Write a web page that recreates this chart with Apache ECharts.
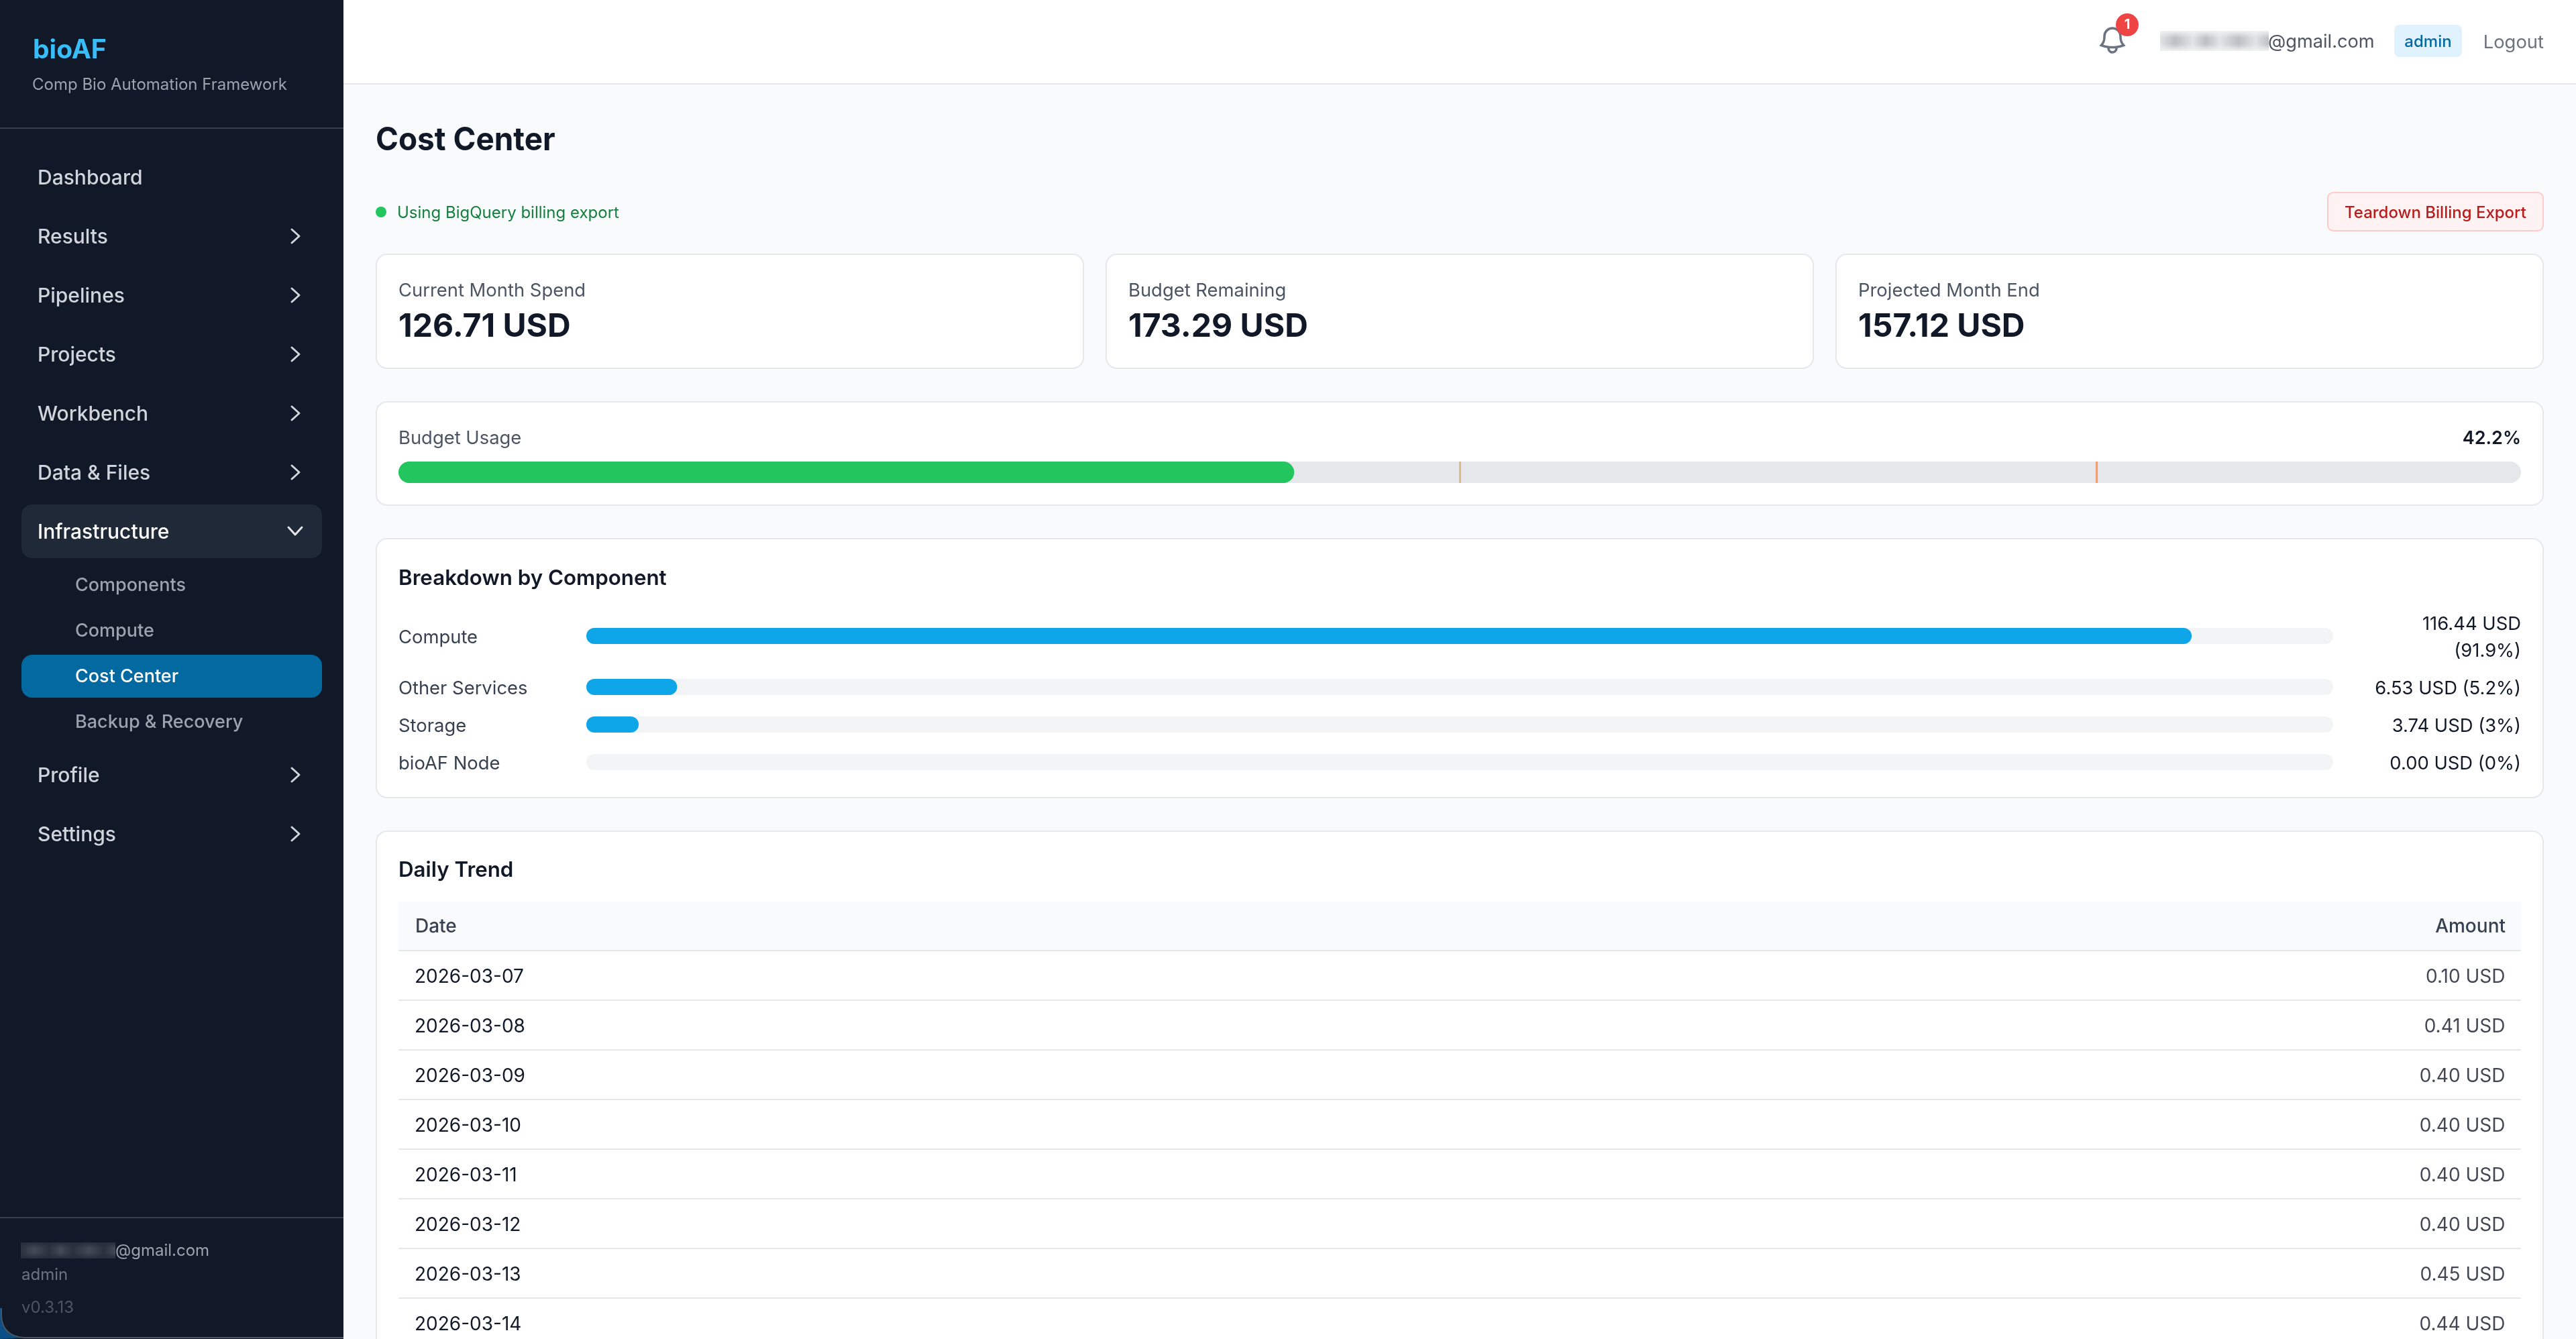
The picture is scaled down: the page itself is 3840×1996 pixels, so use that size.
<!DOCTYPE html>
<html lang="en">
<head>
    <meta charset="UTF-8">
    <title>Cost Center</title>
    <script src="https://cdn.jsdelivr.net/npm/echarts@6/dist/echarts.min.js"></script>
    <style>
        html, body { margin: 0; padding: 0; background: #f9fafb; }
        #main { width: 3840px; height: 1996px; }
    </style>
</head>
<body>
<div id="main"></div>
<script>
    // sidebar
    var navTop = ['Dashboard', 'Results', 'Pipelines', 'Projects', 'Workbench', 'Data & Files'];
    var navBottom = ['Profile', 'Settings'];
    var navSub = ['Components', 'Compute', 'Cost Center', 'Backup & Recovery'];

    // stat cards
    var statLabels = ['Current Month Spend', 'Budget Remaining', 'Projected Month End'];
    var statValues = ['126.71 USD', '173.29 USD', '157.12 USD'];

    // budget bar
    var budgetUsage = 42.2;
    var budgetMarks = [50, 80];

    // breakdown
    var componentNames = ['Compute', 'Other Services', 'Storage', 'bioAF Node'];
    var componentAmounts = [116.44, 6.53, 3.74, 0];
    var componentPercents = [91.9, 5.2, 3, 0];

    // daily trend
    var trendDates = ['2026-03-07', '2026-03-08', '2026-03-09', '2026-03-10', '2026-03-11', '2026-03-12', '2026-03-13', '2026-03-14'];
    var trendAmounts = [0.10, 0.41, 0.40, 0.40, 0.40, 0.40, 0.45, 0.44];

    var FONT = 'Inter';
    var els = [];

    // graphic has no plain path type, so the icon and the window corner are registered as shapes
    echarts.graphic.registerShape('bellIcon', echarts.graphic.extendPath(
        'M14.857 17.082a23.848 23.848 0 0 0 5.454-1.31A8.967 8.967 0 0 1 18 9.75v-.7V9A6 6 0 0 0 6 9v.75a8.967 8.967 0 0 1-2.312 6.022c1.733.64 3.56 1.085 5.455 1.31m5.714 0a24.255 24.255 0 0 1-5.714 0m5.714 0a3 3 0 1 1-5.714 0', {}));
    echarts.graphic.registerShape('cornerFill', echarts.graphic.extendPath('M0 1950 L2 1950 L2 1962 Q4 1992 36 1994 L0 1996 Z', {}));
    echarts.graphic.registerShape('cornerLine', echarts.graphic.extendPath('M2 1950 L2 1962 Q4 1992 36 1994 L512 1994', {}));

    function txt(s, x, y, size, color, weight, align, sx) {
        els.push({
            type: 'text', x: x, y: y + 2, scaleX: sx || 1,
            style: {
                text: s, x: 0, y: 0, fill: color,
                font: (weight || 400) + ' ' + size + 'px ' + FONT,
                textAlign: align || 'left',
                textVerticalAlign: 'middle'
            }
        });
    }
    function box(x, y, w, h, fill, r, stroke) {
        var e = {
            type: 'rect',
            shape: { x: x, y: y, width: w, height: h, r: r || 0 },
            style: { fill: fill }
        };
        if (stroke) {
            e.style.stroke = stroke;
            e.style.lineWidth = 2;
        }
        els.push(e);
    }
    function card(x, y, w, h) {
        box(x + 1, y + 1, w - 2, h - 2, '#ffffff', 16, '#e5e7eb');
    }
    function chevron(y) {
        els.push({
            type: 'polyline',
            shape: { points: [[435, y - 10], [446, y], [435, y + 10]] },
            style: { fill: null, stroke: '#d1d5db', lineWidth: 3, lineCap: 'round', lineJoin: 'round' }
        });
    }
    // the blurred-out part of the address: soft stripes faded out at top and bottom
    function blur(x, y, w, h, a, b, rgb) {
        var stops = [0, 0.14, 0.3, 0.42, 0.55, 0.72, 0.88, 1].map(function (o, i) {
            return { offset: o, color: i % 2 ? b : a };
        });
        els.push({
            type: 'rect',
            shape: { x: x, y: y, width: w, height: h },
            style: { fill: { type: 'linear', x: 0, y: 0, x2: 1, y2: 0, colorStops: stops } }
        });
        els.push({
            type: 'rect',
            shape: { x: x, y: y, width: w, height: h },
            style: {
                fill: {
                    type: 'linear', x: 0, y: 0, x2: 0, y2: 1,
                    colorStops: [
                        { offset: 0, color: 'rgba(' + rgb + ',1)' },
                        { offset: 0.35, color: 'rgba(' + rgb + ',0)' },
                        { offset: 0.65, color: 'rgba(' + rgb + ',0)' },
                        { offset: 1, color: 'rgba(' + rgb + ',1)' }
                    ]
                }
            }
        });
    }

    // ---- sidebar ----
    box(0, 0, 512, 1996, '#111827');
    box(0, 190, 512, 2, '#374151');
    txt('bioAF', 49, 73, 39, '#38bdf8', 700);
    txt('Comp Bio Automation Framework', 48, 125, 24, '#9ca3af');
    navTop.forEach(function (s, i) {
        var y = 264 + i * 88;
        txt(s, 56, y, 30, '#d1d5db', 500);
        if (i > 0) chevron(y);
    });
    box(32, 752, 448, 80, '#1f2937', 16);
    txt('Infrastructure', 56, 792, 30, '#ffffff', 500);
    els.push({
        type: 'polyline',
        shape: { points: [[430, 786], [440, 797], [450, 786]] },
        style: { fill: null, stroke: '#e5e7eb', lineWidth: 3, lineCap: 'round', lineJoin: 'round' }
    });
    box(32, 976, 448, 64, '#0369a1', 16);
    navSub.forEach(function (s, i) {
        txt(s, 112, 871 + i * 68, 27, i === 2 ? '#ffffff' : '#9ca3af', 500);
    });
    navBottom.forEach(function (s, i) {
        var y = 1155 + i * 88;
        txt(s, 56, y, 30, '#d1d5db', 500);
        chevron(y);
    });
    box(0, 1814, 512, 2, '#374151');
    blur(31, 1852, 141, 24, '#2a313e', '#434955', '38,45,58');
    txt('@gmail.com', 172, 1863, 24, '#9ca3af');
    txt('admin', 32, 1899, 24, '#6b7280');
    txt('v0.3.13', 32, 1948, 24, '#4b5563');
    // window corner
    els.push({ type: 'cornerFill', style: { fill: '#0b4f86' } });
    els.push({ type: 'cornerLine', style: { fill: null, stroke: '#4b5563', lineWidth: 2 } });

    // ---- top bar ----
    box(512, 0, 3328, 124, '#ffffff');
    box(512, 124, 3328, 2, '#e5e7eb');
    els.push({
        type: 'bellIcon', x: 3125, y: 36, scaleX: 2, scaleY: 2,
        style: { fill: null, stroke: '#6b7280', lineWidth: 1.75 }
    });
    els.push({
        type: 'circle',
        shape: { cx: 3171, cy: 37, r: 17 },
        style: { fill: '#ef4444' }
    });
    txt('1', 3171, 35, 20, '#ffffff', 700, 'center');
    blur(3220, 46, 162, 30, '#e2e3e6', '#bcbfc3', '240,241,242');
    txt('@gmail.com', 3381, 61, 27.2, '#4b5563');
    box(3569, 37, 101, 48, '#e0f2fe', 8);
    txt('admin', 3619.5, 61, 24, '#0369a1', 500, 'center');
    txt('Logout', 3792, 62, 27.4, '#6b7280', 400, 'right');

    // ---- page head ----
    txt('Cost Center', 560, 208, 48, '#111827', 700, 'left', 0.956);
    els.push({
        type: 'circle',
        shape: { cx: 568, cy: 316, r: 8 },
        style: { fill: '#22c55e' }
    });
    txt('Using BigQuery billing export', 592, 316, 24, '#15803d');
    box(3470, 287, 321, 57, '#fef2f2', 8, '#fecaca');
    txt('Teardown Billing Export', 3630.5, 316, 24, '#b91c1c', 500, 'center');

    // ---- cards ----
    statLabels.forEach(function (s, i) {
        var x = 560 + i * 1088;
        card(x, 378, 1056, 172);
        txt(s, x + 34, 432, 27.4, '#4b5563');
        txt(statValues[i], x + 34, 486, 48, '#111827', 700);
    });
    card(560, 598, 3232, 156);
    txt('Budget Usage', 594, 652, 27.4, '#4b5563');
    txt(budgetUsage + '%', 3758, 652, 27, '#111827', 600, 'right');
    card(560, 802, 3232, 388);
    txt('Breakdown by Component', 594, 861, 31.3, '#111827', 600);
    card(560, 1238, 3232, 800);
    txt('Daily Trend', 594, 1296, 31.3, '#111827', 600);
    box(594, 1344, 3164, 73, '#f9fafb');
    txt('Date', 619, 1380, 28, '#374151', 500);
    txt('Amount', 3735, 1380, 28, '#374151', 500, 'right');

    // ---- charts ----
    var grids = [], xAxes = [], yAxes = [], series = [];

    // budget usage
    grids.push({ left: 594, top: 688, width: 3164, height: 32, outerBoundsMode: 'none' });
    xAxes.push({ gridIndex: 0, type: 'value', min: 0, max: 100, show: false });
    yAxes.push({ gridIndex: 0, type: 'category', data: ['Budget Usage'], show: false });
    series.push({
        name: 'Budget Usage', type: 'bar', xAxisIndex: 0, yAxisIndex: 0,
        data: [budgetUsage], barWidth: '100%',
        itemStyle: { color: '#22c55e', borderRadius: 16 },
        showBackground: true,
        backgroundStyle: { color: '#e5e7eb', borderRadius: 16 },
        markLine: {
            silent: true, symbol: 'none', label: { show: false },
            data: [
                { xAxis: budgetMarks[0], lineStyle: { color: '#d9bb85', width: 3, type: 'solid' } },
                { xAxis: budgetMarks[1], lineStyle: { color: '#ee9f76', width: 3, type: 'solid' } }
            ]
        }
    });

    // axis labels sit a bit low in the reference: top-aligned with a tiny line height moves them down
    var AXIS_TEXT = { fontFamily: FONT, verticalAlign: 'top', lineHeight: 5 };

    // breakdown rows, the first one is taller because its value text wraps
    var rowTops = [936, 1012, 1068, 1124];
    componentNames.forEach(function (name, i) {
        var g = grids.length;
        var pct = componentPercents[i];
        var amount = componentAmounts[i].toFixed(2) + ' USD';
        var valueLabel = Object.assign({ align: 'right', margin: 280, color: '#111827', fontSize: 27.4 }, AXIS_TEXT);
        var valueText = amount + ' (' + pct + '%)';
        if (i === 0) {
            // two lines, with a thin blank line on top for the same shift
            valueText = amount + '\n(' + pct + '%)';
            valueLabel = {
                align: 'right', margin: 280,
                formatter: function (v) {
                    return '{s| }\n' + v.split('\n').map(function (l) { return '{a|' + l + '}'; }).join('\n');
                },
                rich: {
                    s: { fontSize: 1, lineHeight: 5 },
                    a: { fontFamily: FONT, fontSize: 27.4, lineHeight: 40, color: '#111827' }
                }
            };
        }
        grids.push({ left: 874, top: rowTops[i], width: 2604, height: 24, outerBoundsMode: 'none' });
        xAxes.push({ gridIndex: g, type: 'value', min: 0, max: 100, show: false });
        yAxes.push({
            gridIndex: g, type: 'category', data: [name],
            axisLine: { show: false }, axisTick: { show: false },
            axisLabel: Object.assign({ align: 'left', margin: 280, color: '#374151', fontSize: 27.4 }, AXIS_TEXT)
        });
        var leftIdx = yAxes.length - 1;
        yAxes.push({
            gridIndex: g, type: 'category', position: 'right', data: [valueText],
            axisLine: { show: false }, axisTick: { show: false },
            axisLabel: valueLabel
        });
        series.push({
            name: name, type: 'bar', xAxisIndex: g, yAxisIndex: leftIdx,
            data: [pct], barWidth: '100%',
            itemStyle: { color: '#0ea5e9', borderRadius: 12 },
            showBackground: true,
            backgroundStyle: { color: '#f3f4f6', borderRadius: 12 }
        });
    });

    // daily table, its last row runs off the bottom of the page
    var t = grids.length;
    grids.push({ left: 594, top: 1417, width: 3164, height: 74 * trendDates.length, outerBoundsMode: 'none' });
    xAxes.push({ gridIndex: t, type: 'value', min: 0, max: 1, show: false });
    yAxes.push({
        gridIndex: t, type: 'category', inverse: true, data: trendDates, z: 5,
        axisLine: { show: false }, axisTick: { show: false },
        axisLabel: Object.assign({ align: 'left', margin: -24, color: '#111827', fontSize: 28 }, AXIS_TEXT),
        splitLine: { show: true, lineStyle: { color: '#e5e7eb', width: 2 } }
    });
    series.push({
        name: 'Amount', type: 'scatter', xAxisIndex: t, yAxisIndex: yAxes.length - 1,
        symbolSize: 1, itemStyle: { color: 'transparent' }, z: 6,
        data: trendAmounts.map(function (a, i) { return [1, i, a]; }),
        label: {
            show: true, position: 'left', distance: 23, offset: [0, 2.5],
            color: '#111827', fontFamily: FONT, fontSize: 28,
            formatter: function (p) { return p.value[2].toFixed(2) + ' USD'; }
        }
    });

    var chart = echarts.init(document.getElementById('main'));
    chart.setOption({
        animation: false,
        backgroundColor: '#f9fafb',
        textStyle: { fontFamily: FONT },
        graphic: { elements: els },
        grid: grids,
        xAxis: xAxes,
        yAxis: yAxes,
        series: series
    });
</script>
</body>
</html>
